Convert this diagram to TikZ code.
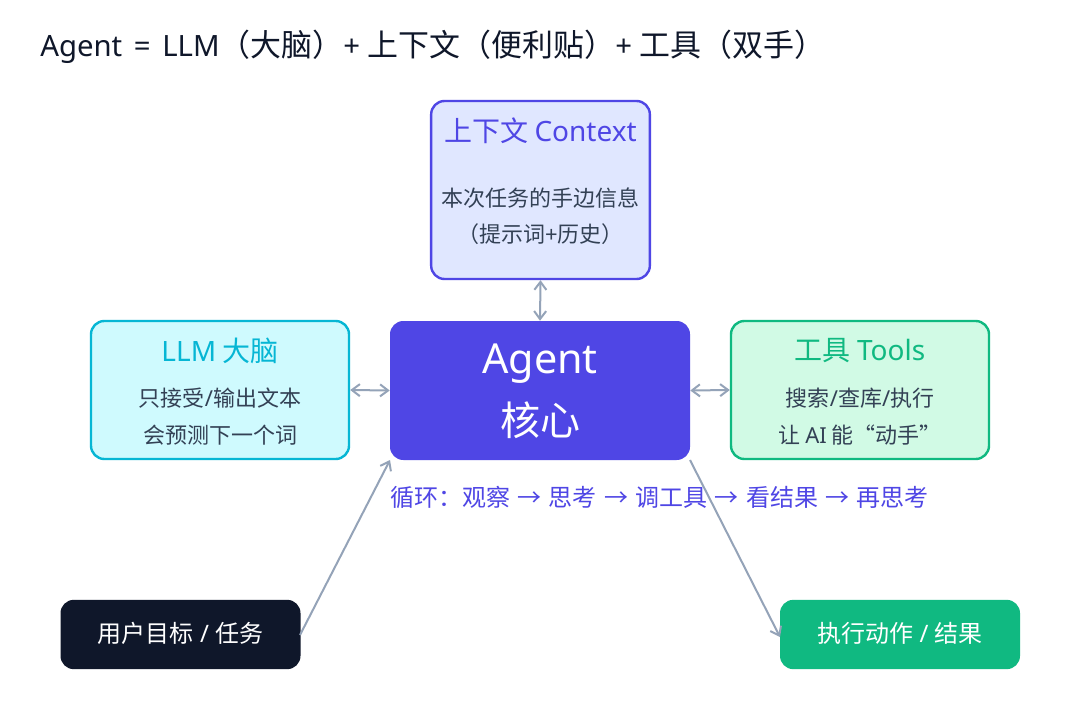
\documentclass[tikz,border=0pt]{standalone}
\usepackage{fontspec}
\setmainfont{Noto Sans CJK SC}
\newfontfamily\lat{Noto Sans}
\usetikzlibrary{arrows.meta}
\definecolor{ink}{HTML}{0F172A}
\definecolor{body}{HTML}{334155}
\definecolor{indigo}{HTML}{4F46E5}
\definecolor{indigoL}{HTML}{E0E7FF}
\definecolor{cyanD}{HTML}{06B6D4}
\definecolor{cyanL}{HTML}{CFFAFE}
\definecolor{greenD}{HTML}{10B981}
\definecolor{greenL}{HTML}{D1FAE5}
\definecolor{link}{HTML}{94A3B8}
\newcommand{\fs}[1]{\fontsize{#1}{#1}\selectfont}
\newcommand{\ar}{\makebox[29pt]{→}}
\newcommand{\tl}[1]{{\fontsize{22pt}{22pt}\lat #1}}
\tikzset{
  card/.style={rounded corners=10pt, line width=1.8pt, inner sep=0pt},
  solid box/.style={rounded corners=10pt, inner sep=0pt, draw=none},
  lbl/.style={inner sep=0pt},
  ttl/.style={lbl, anchor=center, font=\fs{21pt}},
  txt/.style={lbl, anchor=center, font=\fs{16.5pt}, text=body},
  conn/.style={draw=link, line width=1.5pt, -{Straight Barb[length=6pt,width=9pt]}},
  conn2/.style={draw=link, line width=1.5pt, {Straight Barb[length=6pt,width=9pt]}-{Straight Barb[length=6pt,width=9pt]}},
}
\begin{document}
\begin{tikzpicture}[x=0.75pt,y=-0.75pt]
\useasboundingbox (0,0) rectangle (1080,720);
\fill[white] (0,0) rectangle (1080,720);
% title
\node[lbl, anchor=base west, text=ink, font=\fs{23.2pt}] (title) at (40,57) {\tl{Agent\hspace{3pt} = \hspace{3pt}LLM}（大脑）\tl{+ }上下文（便利贴）\tl{+ }工具（双手）};
% context
\node[card, draw=indigo, fill=indigoL, minimum width=164pt, minimum height=133.5pt] (ctx) at (540.5,190) {};
\node[ttl, text=indigo] (ctxT) at (540.5,131) {上下文 {\lat Context}};
\node[txt] (ctxA) at (540.5,198) {本次任务的手边信息};
\node[txt] (ctxB) at (540.5,234) {（提示词{\lat +}历史）};
% llm
\node[card, draw=cyanD, fill=cyanL, minimum width=193.5pt, minimum height=103.5pt] (llm) at (220,390) {};
\node[ttl, text=cyanD] (llmT) at (220,351) {{\lat LLM} 大脑};
\node[txt] (llmA) at (220,398) {只接受{\lat /}输出文本};
\node[txt] (llmB) at (220,435) {会预测下一个词};
% agent
\node[solid box, fill=indigo, minimum width=225pt, minimum height=104.25pt] (agent) at (540,390.5) {};
\node[lbl, anchor=base, text=white, font=\fs{31pt}\lat] (agA) at (540,373) {Agent};
\node[lbl, text=white, font=\fs{30pt}] (agB) at (540,420) {核心};
% tools
\node[card, draw=greenD, fill=greenL, minimum width=193.5pt, minimum height=103.5pt] (tools) at (860,390) {};
\node[ttl, text=greenD] (toolsT) at (860,351) {工具 {\lat Tools}};
\node[txt] (toolsA) at (860,398) {搜索{\lat /}查库{\lat /}执行};
\node[txt] (toolsB) at (860,435) {让 {\lat AI} 能“动手”};
% user
\node[solid box, fill=ink, minimum width=180pt, minimum height=52pt] (user) at (180.5,634.5) {};
\node[lbl, text=white, font=\fs{18pt}] (userT) at (180.5,633) {用户目标{\lat\ / }任务};
% result
\node[solid box, fill=greenD, minimum width=180pt, minimum height=52pt] (res) at (900,634.5) {};
\node[lbl, text=white, font=\fs{18pt}] (resT) at (900,633) {执行动作{\lat\ / }结果};
% loop label
\node[lbl, anchor=west, text=indigo, font=\fs{18pt}] (loop) at (390,497) {循环：观察\ar 思考\ar 调工具\ar 看结果\ar 再思考};
% connectors
\draw[conn2] (ctx.south) -- (agent.north);
\draw[conn2] (llm.east) -- (agent.west);
\draw[conn2] (tools.west) -- (agent.east);
\coordinate (uEnd) at (300,635);
\coordinate (aIn) at (390,460);
\coordinate (aOut) at (690,460);
\coordinate (rIn) at (780,637);
\draw[conn] (uEnd) -- (aIn);
\draw[conn] (aOut) -- (rIn);
\end{tikzpicture}
\end{document}
